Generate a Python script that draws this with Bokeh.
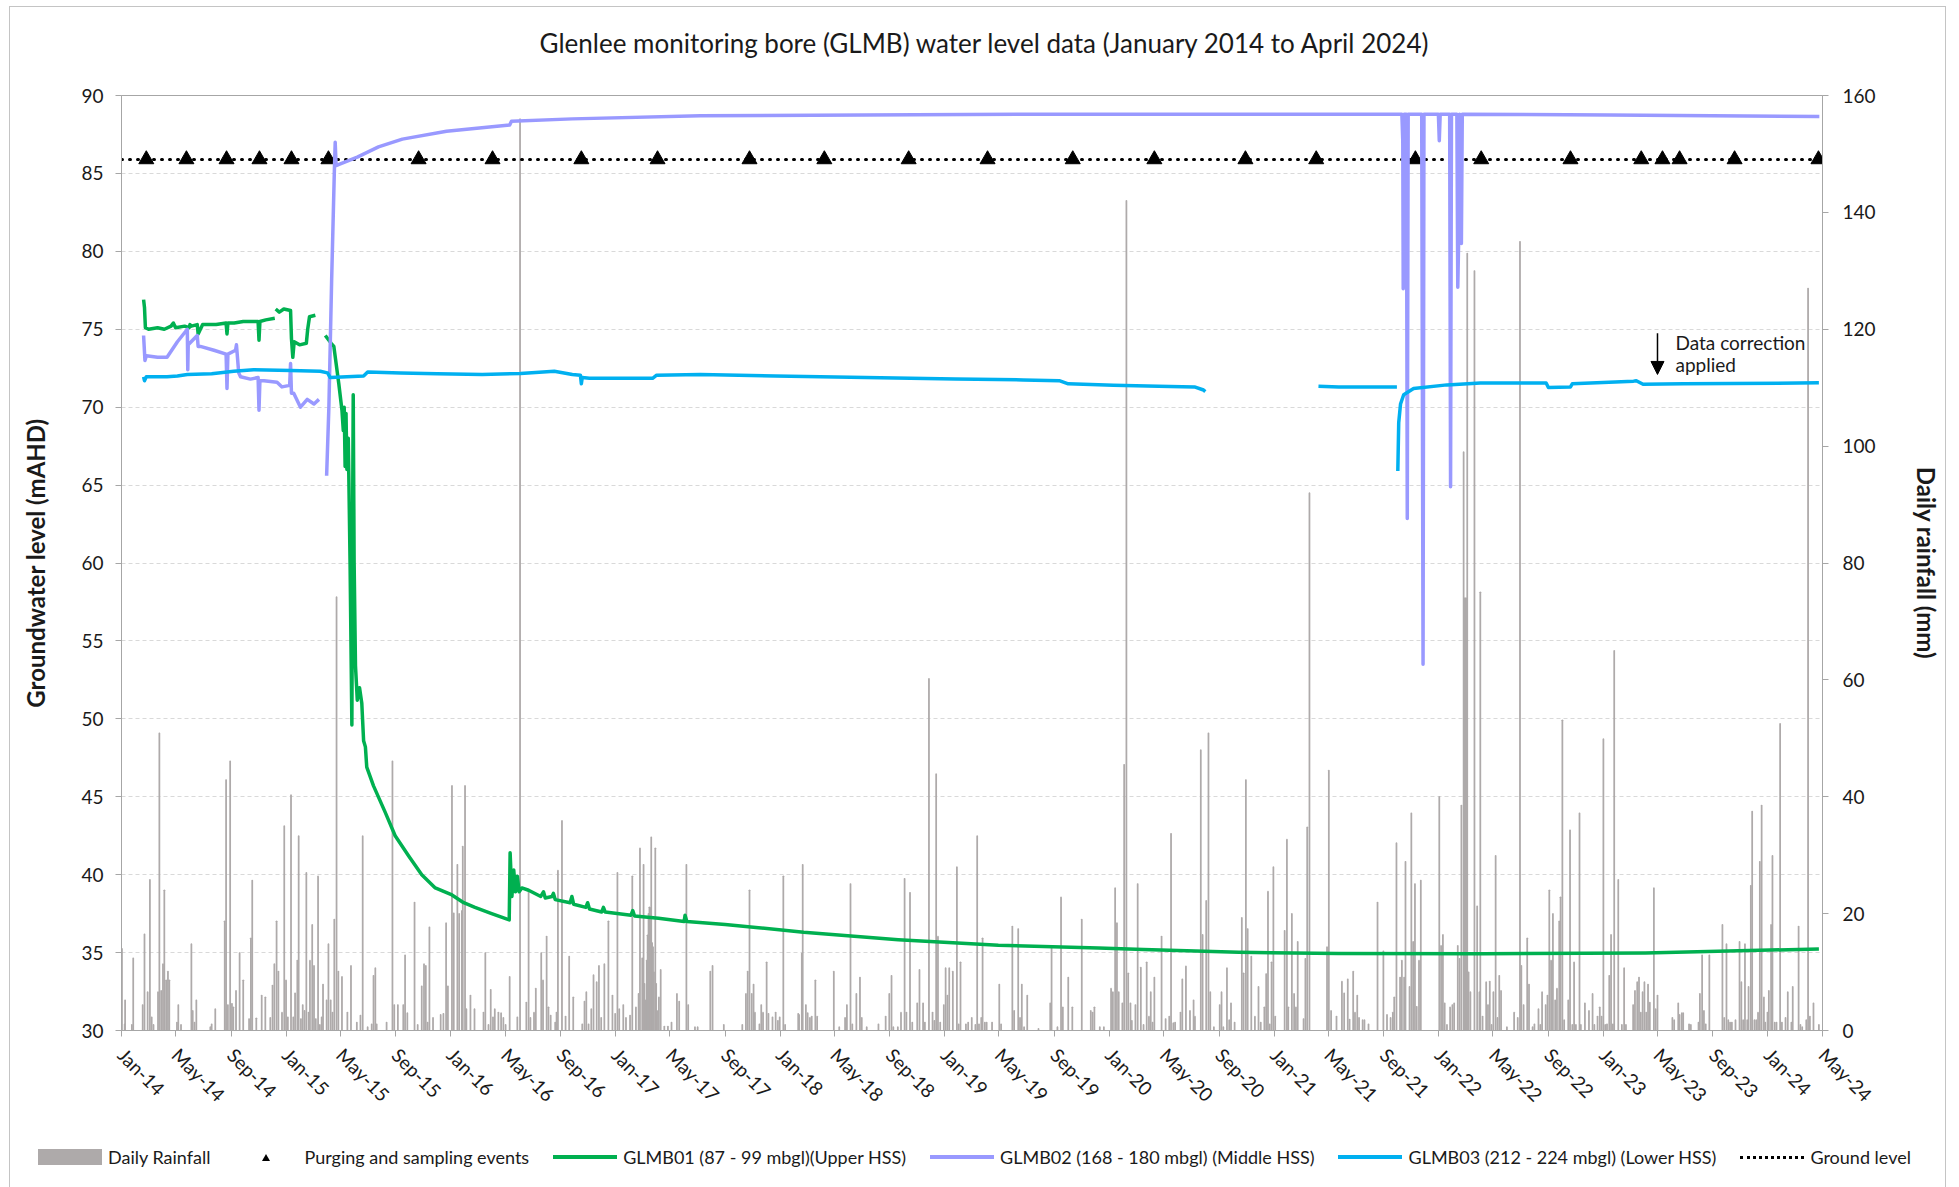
import numpy as np
import pandas as pd
from bokeh.plotting import figure
from bokeh.layouts import column
from bokeh.models import (Range1d, LinearAxis, FixedTicker, DatetimeTickFormatter,
                          Label, Arrow, NormalHead, Div)
from bokeh.embed import file_html
from bokeh.resources import INLINE

NAN = float("nan")
FONT = "Lato"

title_text = "Glenlee monitoring bore (GLMB) water level data (January 2014 to April 2024)"
start_date = "2014-01-01"
end_date = "2024-05-01"
left_axis_label = "Groundwater level (mAHD)"
right_axis_label = "Daily rainfall (mm)"

# ---- Daily rainfall (days since 1 Jan 2014, mm) ----
rain_day = [1, 7, 8, 23, 26, 47, 51, 58, 63, 67, 71, 81, 84, 88, 92, 95, 99, 103, 106, 123, 126, 132, 155, 158, 162, 166,
            197, 200, 208, 229, 232, 236, 241, 245, 248, 254, 262, 270, 283, 287, 290, 299, 311, 319, 330, 335, 339, 344,
            348, 356, 361, 365, 369, 376, 381, 385, 390, 393, 398, 402, 406, 410, 415, 418, 423, 427, 431, 436, 440, 444,
            447, 455, 459, 464, 468, 472, 477, 481, 489, 501, 509, 522, 530, 535, 546, 555, 559, 563, 566, 588, 601, 605,
            613, 625, 629, 634, 650, 657, 666, 671, 675, 679, 683, 691, 708, 714, 720, 724, 733, 737, 745, 749, 755, 757,
            762, 765, 774, 783, 803, 807, 814, 819, 824, 828, 836, 842, 847, 852, 861, 878, 884, 898, 903, 907, 915, 919,
            931, 935, 943, 947, 952, 962, 965, 968, 977, 985, 993, 1002, 1022, 1027, 1031, 1036, 1042, 1047, 1054, 1059,
            1064, 1071, 1080, 1089, 1095, 1100, 1104, 1113, 1119, 1128, 1133, 1141, 1147, 1150, 1155, 1158, 1160, 1163,
            1165, 1167, 1169, 1171, 1173, 1175, 1177, 1179, 1181, 1184, 1186, 1188, 1192, 1196, 1204, 1212, 1220, 1232,
            1237, 1253, 1257, 1272, 1278, 1306, 1311, 1336, 1377, 1385, 1389, 1393, 1398, 1402, 1405, 1415, 1419, 1423,
            1431, 1435, 1444, 1451, 1456, 1460, 1468, 1472, 1501, 1503, 1509, 1511, 1518, 1522, 1527, 1531, 1539, 1543,
            1580, 1592, 1605, 1609, 1617, 1621, 1630, 1638, 1642, 1653, 1679, 1695, 1703, 1708, 1712, 1722, 1729, 1737,
            1741, 1749, 1754, 1765, 1770, 1778, 1782, 1791, 1799, 1803, 1807, 1811, 1816, 1824, 1828, 1832, 1836, 1844,
            1853, 1857, 1861, 1873, 1878, 1886, 1894, 1898, 1902, 1907, 1910, 1915, 1919, 1931, 1947, 1951, 1976, 1980,
            1989, 1993, 1997, 2002, 2009, 2034, 2060, 2063, 2076, 2084, 2088, 2100, 2109, 2130, 2150, 2154, 2158, 2170,
            2179, 2195, 2199, 2204, 2208, 2212, 2220, 2224, 2229, 2233, 2238, 2241, 2249, 2254, 2261, 2267, 2274, 2279,
            2283, 2287, 2291, 2307, 2316, 2324, 2328, 2333, 2337, 2349, 2353, 2361, 2370, 2378, 2381, 2394, 2398, 2406,
            2411, 2415, 2423, 2436, 2440, 2444, 2452, 2457, 2461, 2469, 2485, 2489, 2494, 2498, 2506, 2514, 2522, 2527,
            2535, 2539, 2543, 2547, 2551, 2555, 2559, 2580, 2585, 2588, 2596, 2601, 2605, 2609, 2622, 2626, 2630, 2635,
            2674, 2678, 2683, 2695, 2707, 2712, 2720, 2724, 2732, 2736, 2741, 2745, 2753, 2757, 2766, 2786, 2799, 2807,
            2815, 2820, 2823, 2828, 2836, 2840, 2845, 2848, 2857, 2861, 2865, 2869, 2873, 2878, 2882, 2923, 2927, 2931,
            2935, 2940, 2947, 2952, 2956, 2964, 2968, 2972, 2977, 2979, 2981, 2983, 2985, 2988, 2992, 3001, 3007, 3012,
            3014, 3019, 3027, 3031, 3035, 3039, 3043, 3048, 3052, 3056, 3060, 3073, 3089, 3097, 3102, 3105, 3110, 3118,
            3122, 3130, 3134, 3143, 3147, 3151, 3159, 3163, 3167, 3171, 3175, 3180, 3184, 3189, 3192, 3196, 3200, 3209,
            3213, 3218, 3222, 3226, 3234, 3237, 3246, 3255, 3263, 3267, 3274, 3279, 3283, 3287, 3291, 3295, 3300, 3304,
            3308, 3311, 3320, 3328, 3333, 3337, 3353, 3357, 3362, 3366, 3370, 3374, 3378, 3382, 3386, 3390, 3399, 3403,
            3407, 3440, 3444, 3453, 3456, 3461, 3464, 3477, 3481, 3498, 3501, 3506, 3510, 3514, 3522, 3551, 3555, 3560,
            3564, 3568, 3572, 3580, 3589, 3593, 3597, 3601, 3606, 3609, 3614, 3617, 3622, 3626, 3630, 3634, 3638, 3643,
            3646, 3651, 3654, 3659, 3662, 3667, 3671, 3679, 3683, 3691, 3696, 3704, 3707, 3720, 3724, 3728, 3737, 3741,
            3745, 3753, 3765]
rain_mm = [14, 1.1, 5.2, 1, 12.4, 4.4, 16.5, 6.6, 25.8, 2.3, 1, 6.6, 50.9, 6.8, 11.4, 24, 8.6, 10.1, 8.6, 1.4, 4.4, 1,
           14.8, 3.4, 1.4, 5.2, 0.6, 1.1, 3.7, 18.7, 42.9, 4.4, 46.1, 4.6, 4, 6.8, 13.3, 8.6, 2, 15.8, 25.7, 2.1, 6, 5.7,
           2.2, 7.7, 11.4, 18.7, 10.1, 3.1, 35, 8.6, 2.3, 40.3, 2.3, 6.4, 12, 33.3, 2, 4.4, 3.4, 27, 3.1, 12, 18.1, 11.1,
           2, 26.4, 1, 2.3, 7.9, 5.2, 14.8, 5.2, 3.1, 19, 74.2, 10.1, 9.2, 3.1, 11.1, 1.4, 2.6, 33.3, 0.6, 1.1, 9.4, 10.7,
           1.1, 1.4, 46.1, 4.4, 4.4, 4.4, 12.9, 3, 21.9, 1, 7.6, 11.4, 11.1, 1.4, 17.7, 2.2, 2.7, 2.9, 18.4, 7.6, 41.9,
           20.1, 28.4, 20, 20.5, 31.5, 41.9, 3.7, 6, 3.7, 3.1, 13.3, 1, 7, 2.3, 3.7, 3.1, 3, 2.2, 1, 9.2, 2.3, 156, 4.8,
           24, 2.2, 3.1, 7.2, 13.3, 8.6, 16.1, 4, 2.6, 1.4, 3.1, 27.4, 35.9, 2.4, 12.7, 5.7, 1.1, 5, 6.6, 1.1, 3.7, 9.5,
           8.3, 11.1, 2.2, 11.4, 18.7, 6, 2.9, 27, 3.7, 4.4, 2.2, 2.6, 26.4, 4, 6.3, 31.2, 12.4, 28.4, 8, 5.2, 12, 16.3,
           20, 21.1, 21, 33.1, 15, 14.3, 10, 31.2, 8, 3.4, 5.7, 10.4, 0.7, 0.7, 1.4, 6.3, 5, 28.4, 4.4, 0.6, 0.6, 10.1,
           11.1, 1, 1, 6.3, 10.1, 24, 6.3, 7.9, 3.1, 1.1, 4.4, 3.1, 11.7, 2.9, 2.3, 3.1, 1.7, 2.3, 26.4, 1, 2.9, 2.7,
           13.2, 28.4, 4.4, 3, 2.2, 2.4, 8.6, 2.4, 10.1, 0.6, 2.2, 4.4, 25.1, 1.1, 6.3, 9.1, 2.2, 0.6, 1.1, 2.4, 6.3, 9.4,
           0.6, 0.6, 3.1, 26, 3.1, 23.6, 1.4, 4.7, 10.4, 4.7, 1.4, 60.2, 3.1, 1.7, 43.9, 16.1, 1.4, 4.4, 10.7, 6, 10.7,
           10.1, 28, 1.1, 11.7, 1.1, 1.4, 2.2, 1, 33.3, 1.1, 2.2, 15.8, 1.4, 1.4, 1.4, 7.9, 1.1, 17.8, 3.4, 17.4, 2.2,
           7.9, 0.6, 6, 0.3, 4.7, 14.5, 0.6, 22.8, 4, 9.1, 4, 19, 3.4, 3.1, 4, 0.6, 0.6, 7.2, 6.6, 24.4, 18.4, 6.6, 4.7,
           45.5, 142, 9.8, 4.7, 1.7, 4.4, 25.1, 10.8, 1, 11.7, 2.4, 6.6, 1.4, 9.1, 16.1, 2, 2.4, 33.7, 1.3, 1.4, 3.1, 8.8,
           11, 3.4, 5.2, 2.4, 48, 16.4, 22.2, 50.9, 6.6, 0.6, 4.4, 6.6, 0.6, 10.7, 1.8, 4.7, 1.4, 19.3, 9.8, 42.9, 17.4,
           12.7, 2.4, 7.5, 1.4, 4, 9.7, 23.8, 1.1, 11.7, 28, 2.4, 17.1, 32.7, 4, 20, 6.3, 4, 15.2, 2, 12.3, 34.8, 92,
           14.3, 44.5, 3.4, 2.4, 8.4, 6.4, 8.8, 1.9, 10.1, 3.1, 6, 2.2, 1.8, 1.8, 1.1, 21.9, 13.6, 2.7, 2.2, 3.1, 5.7,
           32.1, 9.1, 12, 9.1, 28.9, 7.5, 37.2, 15.2, 25.1, 4.1, 12, 25.7, 40, 14.5, 16.4, 4.7, 1, 4, 4.4, 4.7, 14.5,
           12.3, 38.5, 99, 74, 74, 74, 133, 10, 6.6, 130, 21.3, 6.6, 75, 2.4, 8.3, 4.4, 8.4, 1, 6.6, 29.9, 2.2, 9.4, 6.8,
           0.6, 3.1, 2.2, 135, 11.1, 4.4, 15.8, 7.9, 0.6, 1.1, 3.7, 1, 6.6, 4.4, 6, 24, 12, 20, 5.2, 7.2, 18.7, 22.8,
           53.1, 1.8, 5.2, 34.3, 1, 11.7, 1, 37.2, 1, 4.7, 3.4, 6.3, 1, 2.4, 4, 2.4, 49.9, 1, 1.1, 9.4, 16.4, 1.1, 65,
           25.8, 1, 10.7, 1, 4.4, 6.8, 8.3, 9.1, 3.1, 6.6, 8.3, 3.1, 7.9, 4.8, 24.4, 3.7, 6, 2.2, 1.8, 4.7, 2.7, 3, 3,
           1.1, 1, 1.4, 6.3, 12.9, 3.4, 1.1, 12.9, 18.1, 2.2, 14.8, 1.8, 1.4, 1.4, 1.8, 15.2, 8.3, 1.8, 14.8, 1.8, 7.5,
           24.8, 37.5, 1.8, 1.8, 3.1, 28.9, 38.5, 5.7, 1.4, 3.1, 6.8, 18.1, 29.9, 1.4, 1.4, 52.5, 1.4, 2.2, 6.6, 1.4, 7.5,
           17.8, 1, 0.6, 1.8, 127, 2.4, 4.7, 1]

# ---- Groundwater levels (days since 1 Jan 2014, mAHD); NAN marks a logger gap ----
glmb01_day = [49, 51, 53, 60, 80, 95, 110, 115, 120, 140, 150, 152, 155, 168, 170, 180, 210, 232, 234, 236, 250, 270,
              303, 305, 307, 320, 340, NAN,
              342, 350, 360, 375, 377, 380, 383, 395, 410, 413, 417, 430, NAN,
              452, 465, 471, 482, 489, 492, 494, 496, 498, 500, 503, 507, 511, 513, 514, 516, 519, 523, 528, 533, 537,
              541, 544, 559, 585, 607, 637, 666, 696, 733, 759, 784, 821, 860, 862, 866, 870, 874, 878, 882, 888, 903,
              930, 936, 940, 955, 958, 962, 995, 999, 1003, 1030, 1034, 1038, 1065, 1069, 1073, 1130, 1134, 1138, 1191,
              1248, 1250, 1254, 1339, 1413, 1513, 1723, 1945, 2167, 2267, 2478, 2699, 3020, 3380, 3765]
glmb01_lvl = [76.9, 76.4, 75.1, 75.0, 75.1, 75.0, 75.2, 75.4, 75.1, 75.2, 75.1, 75.3, 75.2, 75.3, 74.7, 75.3, 75.3,
              75.4, 74.7, 75.4, 75.4, 75.5, 75.5, 74.3, 75.5, 75.6, 75.7, NAN,
              76.3, 76.1, 76.3, 76.2, 74.4, 73.2, 74.2, 74.0, 74.1, 75.0, 75.8, 75.9, NAN,
              74.6, 74.1, 73.9, 71.5, 69.8, 68.5, 70.0, 66.2, 69.6, 66.0, 68.0, 60.0, 49.6, 65.0, 70.8, 60.0, 53.4,
              51.2, 52.0, 51.0, 48.6, 48.2, 46.9, 45.7, 44.0, 42.5, 41.2, 40.0, 39.15, 38.7, 38.2, 37.9, 37.5, 37.1,
              41.4, 38.6, 40.3, 38.9, 39.9, 38.9, 39.15, 39.0, 38.6, 38.9, 38.5, 38.6, 38.8, 38.4, 38.2, 38.6, 38.1,
              37.9, 38.2, 37.8, 37.6, 37.9, 37.6, 37.4, 37.7, 37.35, 37.2, 37.0, 37.4, 37.0, 36.8, 36.6, 36.3, 35.83,
              35.47, 35.3, 35.2, 35.02, 34.94, 34.92, 34.98, 35.23]

glmb02_day = [49, 52, 55, 80, 101, 124, 146, 147, 148, 168, 170, 175, 205, 232, 234, 236, 253, 255, 260, 264, 286, 303,
              305, 307, 316, 345, 356, 373, 375, 377, 382, 397, 412, 427, 438, NAN,
              455, 460, 466, 472, 474, 476, 484, 523, 570, 623, 721, 861, 865, 1000, 1284, 2000, 2840, 2842, 2843,
              2845, 2850, 2852, 2854, 2884, 2887, 2889, 2921, 2923, 2925, 2946, 2948, 2950, 2962, 2964, 2966, 2968,
              2972, 2974, 3300, 3766]
glmb02_lvl = [74.6, 73.0, 73.3, 73.2, 73.2, 74.2, 75.0, 72.4, 74.0, 74.6, 73.9, 73.9, 73.65, 73.4, 71.2, 73.4, 73.65,
              74.0, 72.2, 71.95, 71.8, 71.9, 69.8, 71.7, 71.7, 71.6, 71.3, 71.4, 72.8, 70.9, 70.9, 70.0, 70.5, 70.2,
              70.5, NAN,
              65.6, 70.0, 78.0, 85.0, 87.0, 85.5, 85.6, 86.05, 86.7, 87.2, 87.7, 88.1, 88.35, 88.5, 88.7, 88.8, 88.8,
              87.1, 77.6, 88.8, 88.8, 62.85, 88.8, 88.8, 53.5, 88.8, 88.8, 87.1, 88.8, 88.8, 64.9, 88.8, 88.8, 77.7,
              80.8, 88.8, 80.5, 88.8, 88.75, 88.65]

glmb03_day = [49, 51, 55, 101, 124, 146, 200, 249, 293, 375, 441, 457, 463, 537, 546, 619, 700, 800, 885, 960, 1000,
              1018, 1020, 1022, 1038, 1178, 1187, 1284, 1450, 1650, 1850, 2000, 2080, 2100, 2200, 2300, 2380, 2400,
              2404, NAN,
              2655, 2700, 2780, 2829, NAN,
              2831, 2833, 2837, 2844, 2866, 2940, 3014, 3160, 3165, 3214, 3218, 3354, 3360, 3375, 3465, 3765]
glmb03_lvl = [71.95, 71.7, 71.95, 71.95, 72.0, 72.1, 72.15, 72.3, 72.4, 72.35, 72.3, 72.2, 71.9, 72.0, 72.25, 72.2,
              72.15, 72.1, 72.16, 72.3, 72.1, 72.05, 71.5, 71.9, 71.85, 71.85, 72.05, 72.1, 72.0, 71.9, 71.8, 71.75,
              71.7, 71.5, 71.4, 71.35, 71.3, 71.1, 71.0, NAN,
              71.35, 71.3, 71.3, 71.3, NAN,
              65.9, 69.0, 70.2, 70.8, 71.2, 71.43, 71.55, 71.55, 71.26, 71.3, 71.5, 71.67, 71.7, 71.47, 71.5, 71.56]

# Purging and sampling events (days since 1 Jan 2014), plotted at ground level
event_day = [55, 144, 233, 306, 377, 459, 659, 823, 1020, 1189, 1393, 1559, 1746, 1921, 2110, 2291, 2493, 2650,
             2870, 3016, 3214, 3371, 3418, 3456, 3578, 3764]
ground_level = 85.9

correction_day = 3407
correction_text = ["Data correction", "applied"]

legend_labels = ["Daily Rainfall", "Purging and sampling events", "GLMB01 (87 - 99 mbgl)(Upper HSS)",
                 "GLMB02 (168 - 180 mbgl) (Middle HSS)", "GLMB03 (212 - 224 mbgl) (Lower HSS)", "Ground level"]

# ---- styles ----
RAIN_C, G1_C, G2_C, G3_C = "#AEAAAA", "#00B050", "#9999FF", "#00B0F0"
TOTAL_W = 1935

# ---- helpers ----
DAY_MS = 86400000.0
T0 = pd.Timestamp(start_date).value / 1e6
T1 = pd.Timestamp(end_date).value / 1e6


def to_ms(days):
    return T0 + np.asarray(days, dtype=float) * DAY_MS


tick_ms = [t.value / 1e6 for t in pd.date_range(start_date, end_date, freq="4MS")]

# ---- title ----
title_div = Div(text=title_text, width=TOTAL_W, height=55, margin=0,
                styles={"font-family": FONT, "font-size": "26px", "line-height": "30px", "color": "#1a1a1a",
                        "text-align": "center", "padding-top": "21px", "padding-left": "13px",
                        "box-sizing": "border-box", "white-space": "nowrap"})

# ---- main plot ----
p = figure(frame_width=1701, frame_height=935, x_axis_type="datetime", output_backend="svg", toolbar_location=None,
           x_range=Range1d(T0, T1), y_range=Range1d(30, 90),
           min_border_left=111, min_border_right=123, min_border_top=33, min_border_bottom=85)
p.extra_y_ranges = {"rain": Range1d(0, 160)}

p.outline_line_color = "#A6A6A6"
p.xgrid.visible = False
p.ygrid.grid_line_color = "#D9D9D9"
p.ygrid.grid_line_dash = "4 3"
p.ygrid.ticker = FixedTicker(ticks=list(range(30, 91, 5)))

xa = p.xaxis[0]
xa.ticker = FixedTicker(ticks=tick_ms, minor_ticks=[])
fmt = "%b-%y"
xa.formatter = DatetimeTickFormatter(microseconds=fmt, milliseconds=fmt, seconds=fmt, minsec=fmt, minutes=fmt,
                                     hourmin=fmt, hours=fmt, days=fmt, months=fmt, years=fmt)
xa.major_label_orientation = -np.pi / 4

ya = p.yaxis[0]
ya.ticker = FixedTicker(ticks=list(range(30, 91, 5)), minor_ticks=[])
ya.axis_label = left_axis_label

ra = LinearAxis(y_range_name="rain", axis_label=right_axis_label,
                ticker=FixedTicker(ticks=list(range(0, 161, 20)), minor_ticks=[]))
p.add_layout(ra, "right")

for ax in [xa, ya, ra]:
    ax.axis_line_color = "#A6A6A6"
    ax.major_tick_line_color = "#A6A6A6"
    ax.major_tick_out = 6
    ax.major_tick_in = 0
    ax.minor_tick_out = 0
    ax.major_label_text_font = FONT
    ax.major_label_text_font_size = "19px"
    ax.major_label_text_color = "#1a1a1a"
    ax.axis_label_text_font = FONT
    ax.axis_label_text_font_size = "24px"
    ax.axis_label_text_font_style = "bold"
    ax.axis_label_text_color = "#1a1a1a"
ya.major_label_standoff = 12
ra.major_label_standoff = 14
xa.major_label_standoff = 15
ya.axis_label_standoff = 28
ra.axis_label_standoff = 33

p.vbar(x=to_ms(rain_day), top=rain_mm, bottom=0, width=DAY_MS, y_range_name="rain",
       fill_color=RAIN_C, line_color=RAIN_C, line_width=1.3)
p.line(x=[T0, T1], y=[ground_level, ground_level], line_color="black", line_width=3,
       line_dash="1 7", line_cap="round")
p.scatter(x=to_ms(event_day), y=[ground_level] * len(event_day), marker="triangle", size=15,
          fill_color="black", line_color="black")
p.line(x=to_ms(glmb01_day), y=glmb01_lvl, line_color=G1_C, line_width=3.5, line_join="round")
p.line(x=to_ms(glmb02_day), y=glmb02_lvl, line_color=G2_C, line_width=3.5, line_join="round")
p.line(x=to_ms(glmb03_day), y=glmb03_lvl, line_color=G3_C, line_width=3.5, line_join="round")

cx = float(to_ms([correction_day])[0])
p.add_layout(Arrow(end=NormalHead(size=13, fill_color="black", line_color="black"),
                   x_start=cx, y_start=74.75, x_end=cx, y_end=72.1, line_width=1.5, line_color="black"))
p.add_layout(Label(x=cx + 40 * DAY_MS, y=74.9, text=correction_text[0], text_font=FONT, text_font_size="19px",
                   text_baseline="top", text_color="#1a1a1a"))
p.add_layout(Label(x=cx + 40 * DAY_MS, y=73.45, text=correction_text[1], text_font=FONT, text_font_size="19px",
                   text_baseline="top", text_color="#1a1a1a"))

# ---- legend strip ----
tri = ('<span style="display:inline-flex;justify-content:center;align-items:center;width:64px;height:16px;">'
       '<span style="width:0;height:0;border-left:4px solid transparent;border-right:4px solid transparent;'
       'border-bottom:7px solid #000;"></span></span>')
swatches = [
    '<span style="display:inline-block;width:64px;height:16px;background:%s;"></span>' % RAIN_C,
    tri,
    '<span style="display:inline-block;width:64px;height:0;border-top:4px solid %s;"></span>' % G1_C,
    '<span style="display:inline-block;width:64px;height:0;border-top:4px solid %s;"></span>' % G2_C,
    '<span style="display:inline-block;width:64px;height:0;border-top:4px solid %s;"></span>' % G3_C,
    '<span style="display:inline-block;width:64px;height:0;border-top:3px dotted #000;"></span>',
]
parts = []
for i, (sw, lab) in enumerate(zip(swatches, legend_labels)):
    ml = 0 if i == 0 else 24
    parts.append('<span style="display:inline-flex;align-items:center;margin-left:%dpx;">%s'
                 '<span style="margin-left:6px;">%s</span></span>' % (ml, sw, lab))
legend_html = ('<div style="display:flex;align-items:center;font-family:%s;font-size:18px;line-height:22px;'
               'color:#1a1a1a;white-space:nowrap;">%s</div>' % (FONT, "".join(parts)))
legend_div = Div(text=legend_html, width=TOTAL_W, height=70, margin=0,
                 styles={"padding-top": "29px", "padding-left": "28px", "box-sizing": "border-box"})

page = column(title_div, p, legend_div, spacing=0,
              styles={"border": "1px solid #C4C4C4", "margin-left": "9px", "margin-top": "6px"})

open("out.html", "w").write(file_html(page, INLINE))
